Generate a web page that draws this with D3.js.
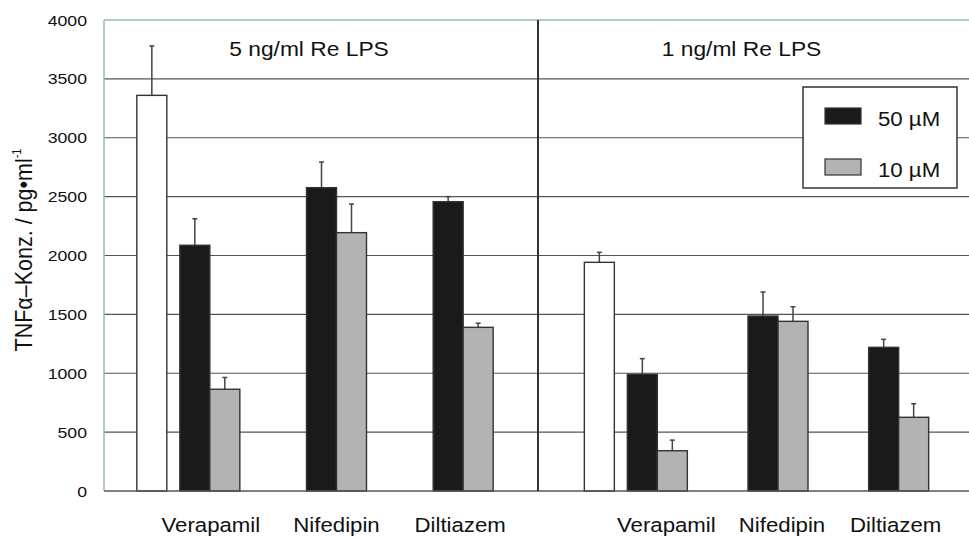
<!DOCTYPE html>
<html>
<head>
<meta charset="utf-8">
<script src="https://cdn.jsdelivr.net/npm/d3@7"></script>
<style>
  html, body { margin: 0; padding: 0; background: #fff; }
  svg { display: block; font-family: Arial, "Liberation Sans", sans-serif; }
</style>
</head>
<body>
<svg id="chart" width="969" height="538"></svg>
<script>
// ---------------- data ----------------
const drugs = ["Verapamil", "Nifedipin", "Diltiazem"];
const panelLabels = ["5 ng/ml Re LPS", "1 ng/ml Re LPS"];
const seriesLabels = ["50 \u00b5M", "10 \u00b5M"];
const yTicks = [0, 500, 1000, 1500, 2000, 2500, 3000, 3500, 4000];

const controlValues = [3360, 1942];
const controlErrors = [420, 85];

const lps5_50uM = [2087, 2576, 2457];
const lps5_50uM_err = [225, 218, 43];
const lps5_10uM = [864, 2194, 1390];
const lps5_10uM_err = [100, 243, 35];

const lps1_50uM = [991, 1486, 1220];
const lps1_50uM_err = [133, 204, 68];
const lps1_10uM = [342, 1441, 626];
const lps1_10uM_err = [90, 124, 115];

// ---------------- layout ----------------
const W = 969, H = 538;
const plot = { left: 104, right: 969, top: 20, bottom: 491 };
const divider = 538;
const SX = 1.14; // horizontal text stretch of the original
const barW = 30;
const controlGap = 13;
const colors = { c50: "#1a1a1a", c10: "#b3b3b3", ctrl: "#ffffff", edge: "#333333" };

const svg = d3.select("#chart");
const y = d3.scaleLinear().domain([0, 4000]).range([plot.bottom, plot.top]);

const panels = [
  { label: panelLabels[0], x0: plot.left, x1: divider, bandRange: [146.5, 526.5], labelShift: [1, 0, -3],
    ctrl: controlValues[0], ctrlErr: controlErrors[0],
    v50: lps5_50uM, e50: lps5_50uM_err, v10: lps5_10uM, e10: lps5_10uM_err },
  { label: panelLabels[1], x0: divider, x1: plot.right, bandRange: [597, 959], labelShift: [9, 4, -3],
    ctrl: controlValues[1], ctrlErr: controlErrors[1],
    v50: lps1_50uM, e50: lps1_50uM_err, v10: lps1_10uM, e10: lps1_10uM_err }
];

function stretchText(sel, x, yy) {
  return sel.attr("transform", `translate(${x},${yy}) scale(${SX},1)`);
}

// gridlines
svg.append("g").selectAll("line")
  .data(yTicks.filter(t => t > 0 && t < 4000))
  .join("line")
  .attr("x1", plot.left).attr("x2", plot.right)
  .attr("y1", d => y(d)).attr("y2", d => y(d))
  .attr("stroke", "#555").attr("stroke-width", 1.2);

// frame: top + left (light teal-grey)
svg.append("line").attr("x1", plot.left).attr("x2", plot.right)
  .attr("y1", y(4000)).attr("y2", y(4000))
  .attr("stroke", "#9db5b5").attr("stroke-width", 1.5);
svg.append("line").attr("x1", plot.left).attr("x2", plot.left)
  .attr("y1", y(4000)).attr("y2", y(0))
  .attr("stroke", "#9db5b5").attr("stroke-width", 1.5);

// y tick labels
svg.append("g").selectAll("text")
  .data(yTicks)
  .join("text")
  .each(function(d) { stretchText(d3.select(this), 87, y(d)); })
  .attr("text-anchor", "end")
  .attr("dy", "0.36em")
  .attr("font-size", 15.5)
  .attr("fill", "#111")
  .text(d => d);

// y axis title
const yTitle = svg.append("text")
  .attr("transform", `translate(32,250) scale(${SX},1) rotate(-90)`)
  .attr("text-anchor", "middle")
  .attr("font-size", 21.5)
  .attr("fill", "#111");
yTitle.append("tspan").text("TNF\u03b1\u2013Konz. / pg\u2022ml");
yTitle.append("tspan").attr("font-size", 11).attr("dy", -10).text("-1");

// panels
panels.forEach(p => {
  const xb = d3.scaleBand().domain(drugs).range(p.bandRange);
  const center = d => xb(d) + xb.bandwidth() / 2;
  const g = svg.append("g");

  // control bar (white)
  const ctrlX = center(drugs[0]) - barW - controlGap - barW;
  g.append("line")
    .attr("x1", ctrlX + barW / 2).attr("x2", ctrlX + barW / 2)
    .attr("y1", y(p.ctrl)).attr("y2", y(p.ctrl + p.ctrlErr))
    .attr("stroke", "#444").attr("stroke-width", 1.5);
  g.append("line")
    .attr("x1", ctrlX + barW / 2 - 2.5).attr("x2", ctrlX + barW / 2 + 2.5)
    .attr("y1", y(p.ctrl + p.ctrlErr)).attr("y2", y(p.ctrl + p.ctrlErr))
    .attr("stroke", "#444").attr("stroke-width", 1.5);
  g.append("rect")
    .attr("x", ctrlX).attr("y", y(p.ctrl))
    .attr("width", barW).attr("height", y(0) - y(p.ctrl))
    .attr("fill", colors.ctrl).attr("stroke", colors.edge).attr("stroke-width", 1.4);

  const series = [
    { vals: p.v50, errs: p.e50, fill: colors.c50, off: -barW },
    { vals: p.v10, errs: p.e10, fill: colors.c10, off: 0 }
  ];
  series.forEach(s => {
    const data = drugs.map((d, i) => ({ d, v: s.vals[i], e: s.errs[i] }));
    g.append("g").selectAll("line").data(data).join("line")
      .attr("x1", r => center(r.d) + s.off + barW / 2)
      .attr("x2", r => center(r.d) + s.off + barW / 2)
      .attr("y1", r => y(r.v)).attr("y2", r => y(r.v + r.e))
      .attr("stroke", "#444").attr("stroke-width", 1.5);
    g.append("g").selectAll("line").data(data).join("line")
      .attr("x1", r => center(r.d) + s.off + barW / 2 - 2.5)
      .attr("x2", r => center(r.d) + s.off + barW / 2 + 2.5)
      .attr("y1", r => y(r.v + r.e)).attr("y2", r => y(r.v + r.e))
      .attr("stroke", "#444").attr("stroke-width", 1.5);
    g.append("g").selectAll("rect").data(data).join("rect")
      .attr("x", r => center(r.d) + s.off)
      .attr("y", r => y(r.v))
      .attr("width", barW)
      .attr("height", r => y(0) - y(r.v))
      .attr("fill", s.fill).attr("stroke", colors.edge).attr("stroke-width", 1.4);
  });

  // category labels
  g.append("g").selectAll("text").data(drugs).join("text")
    .each(function(d, i) { stretchText(d3.select(this), center(d) + p.labelShift[i], 532); })
    .attr("text-anchor", "middle")
    .attr("font-size", 19.5)
    .attr("fill", "#111")
    .text(d => d);

  // panel title
  stretchText(g.append("text"), (p.x0 + p.x1) / 2 - 12, 56)
    .attr("text-anchor", "middle")
    .attr("font-size", 20)
    .attr("fill", "#111")
    .text(p.label);
});

// baseline and divider
svg.append("line").attr("x1", plot.left).attr("x2", plot.right)
  .attr("y1", y(0)).attr("y2", y(0))
  .attr("stroke", "#555").attr("stroke-width", 1.5);
svg.append("line").attr("x1", divider).attr("x2", divider)
  .attr("y1", y(4000)).attr("y2", y(0))
  .attr("stroke", "#333").attr("stroke-width", 2);

// legend
const lg = svg.append("g");
lg.append("rect").attr("x", 803).attr("y", 87).attr("width", 154).attr("height", 101)
  .attr("fill", "#fff").attr("stroke", "#333").attr("stroke-width", 1.5);
const legendItems = [
  { label: seriesLabels[0], fill: colors.c50, sy: 108 },
  { label: seriesLabels[1], fill: colors.c10, sy: 159 }
];
lg.selectAll("rect.sw").data(legendItems).join("rect")
  .attr("class", "sw")
  .attr("x", 825).attr("y", d => d.sy).attr("width", 36).attr("height", 16)
  .attr("fill", d => d.fill).attr("stroke", colors.edge).attr("stroke-width", 1.2);
lg.selectAll("text").data(legendItems).join("text")
  .each(function(d) { stretchText(d3.select(this), 878, d.sy + 18); })
  .attr("font-size", 19.5)
  .attr("fill", "#111")
  .text(d => d.label);
</script>
</body>
</html>
